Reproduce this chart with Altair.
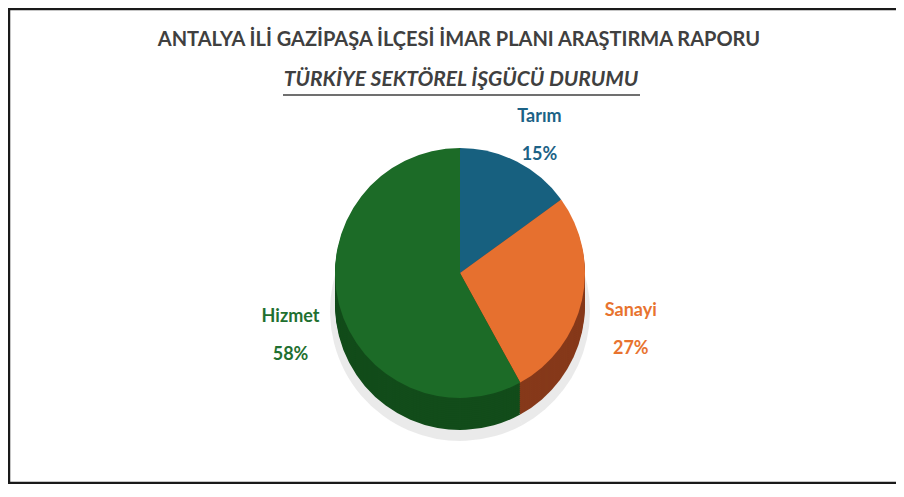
import altair as alt
import pandas as pd

# ---- data ----
categories = ["Tarım", "Sanayi", "Hizmet"]
shares = [15, 27, 58]
pct_labels = ["15%", "27%", "58%"]
title_text = "ANTALYA İLİ GAZİPAŞA İLÇESİ İMAR PLANI ARAŞTIRMA RAPORU"
subtitle_text = "TÜRKİYE SEKTÖREL İŞGÜCÜ DURUMU"

# ---- styles ----
top_colors = ["#17607f", "#e6702f", "#1c6b27"]
side_colors = ["#0f4258", "#86391a", "#124c1a"]
label_colors = ["#1c6286", "#e8732f", "#1f7030"]
FONT = "Lato"

df = pd.DataFrame({"cat": categories, "share": shares, "pct": pct_labels,
                   "idx": list(range(len(categories)))})
df["label"] = df["cat"] + "\n" + df["pct"]

W, H = 888, 476
CX, CY, R, DEPTH = 452, 265, 125, 32

base = alt.Chart(df)
theta = alt.Theta("share:Q", stack=True)
order = alt.Order("idx:Q")


def color(rng):
    return alt.Color("cat:N", scale=alt.Scale(domain=categories, range=rng), legend=None)


layers = []
# soft shadow
layers.append(base.mark_arc(radius=R + 5, color="#d9d9d9", opacity=0.55).encode(
    theta=theta, order=order, x=alt.value(CX), y=alt.value(CY + DEPTH + 6)))
# side (depth) of the 3D pie
for k in range(DEPTH, 0, -2):
    layers.append(base.mark_arc(radius=R).encode(
        theta=theta, order=order, color=color(side_colors),
        x=alt.value(CX), y=alt.value(CY + k)))
# top face
layers.append(base.mark_arc(radius=R).encode(
    theta=theta, order=order, color=color(top_colors),
    x=alt.value(CX), y=alt.value(CY)))
# labels
layers.append(base.mark_text(radius=R + 50, lineBreak="\n", lineHeight=38, font=FONT,
                             fontSize=18, fontWeight="bold").encode(
    theta=theta, order=order, color=color(label_colors), text="label:N",
    x=alt.value(CX), y=alt.value(CY)))

one = alt.Data(values=[{}])
layers.append(alt.Chart(one).mark_text(text=title_text, font=FONT, fontSize=20, fontWeight="bold",
                                       color="#404040").encode(x=alt.value(CX - 1), y=alt.value(32)))
layers.append(alt.Chart(one).mark_text(text=subtitle_text, font=FONT, fontSize=21, fontWeight="bold",
                                       fontStyle="italic", color="#404040").encode(
    x=alt.value(CX + 1), y=alt.value(72)))
layers.append(alt.Chart(one).mark_rule(color="#404040", strokeWidth=1.5).encode(
    x=alt.value(CX - 177), x2=alt.value(CX + 180), y=alt.value(87)))
# frame
layers.append(alt.Chart(one).mark_rule(color="#1a1a1a", strokeWidth=2.5).encode(
    x=alt.value(1), y=alt.value(0), y2=alt.value(H)))
layers.append(alt.Chart(one).mark_rule(color="#1a1a1a", strokeWidth=2.5).encode(
    x=alt.value(0), x2=alt.value(W), y=alt.value(1)))
layers.append(alt.Chart(one).mark_rule(color="#1a1a1a", strokeWidth=2.5).encode(
    x=alt.value(0), x2=alt.value(W), y=alt.value(H - 1)))

chart = alt.layer(*layers).resolve_scale(color="independent").properties(
    width=W, height=H, autosize="none", padding=0
).configure_view(stroke=None)

chart.save("out.html", embed_options={"renderer": "svg", "actions": False})
